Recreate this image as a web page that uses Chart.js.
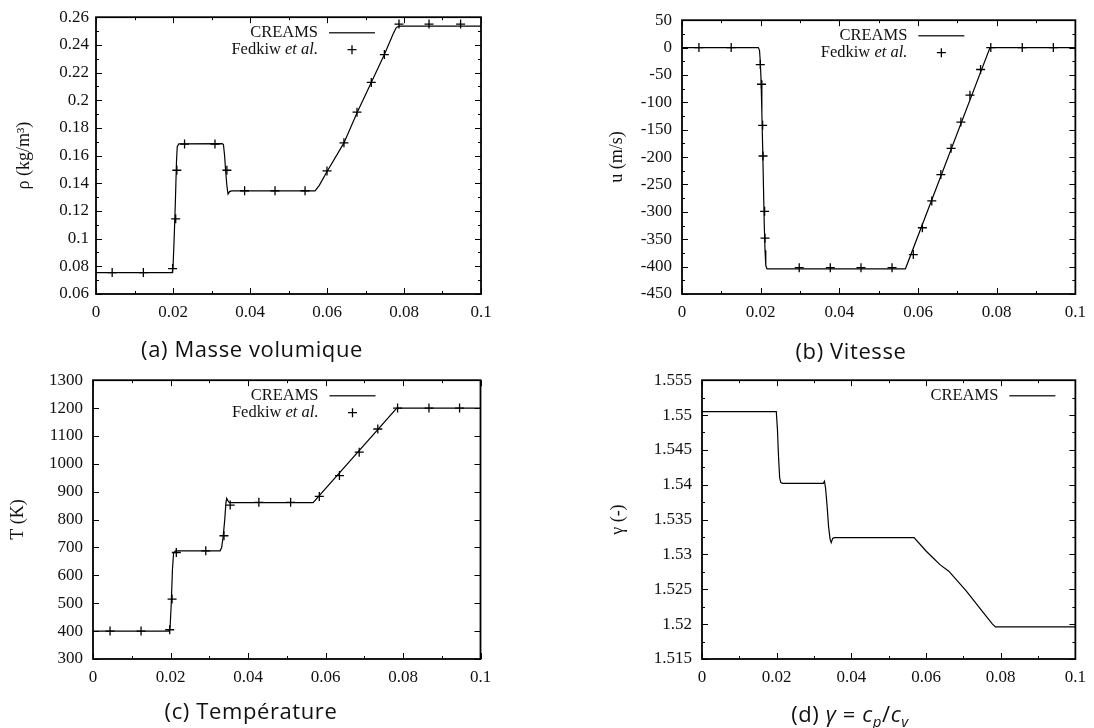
<!DOCTYPE html>
<html><head><meta charset="utf-8">
<script src="https://cdn.jsdelivr.net/npm/chart.js@4.4.1/dist/chart.umd.min.js"></script>
<style>
html,body{margin:0;padding:0;background:#fff;}
body{width:1094px;height:728px;position:relative;overflow:hidden;}
canvas{position:absolute;}
.cap{position:absolute;font-family:'Open Sans',sans-serif;font-size:22px;letter-spacing:0.6px;color:#111;text-align:center;width:400px;line-height:22px;white-space:nowrap;}
.cap i{font-style:italic;}
</style></head><body>
<canvas id="cA" width="547" height="330" style="left:0;top:0"></canvas>
<canvas id="cB" width="547" height="330" style="left:547px;top:0"></canvas>
<canvas id="cC" width="547" height="368" style="left:0;top:360px"></canvas>
<canvas id="cD" width="547" height="368" style="left:547px;top:360px"></canvas>
<div class="cap" style="left:52px;top:337px">(a) Masse volumique</div>
<div class="cap" style="left:651px;top:339px">(b) Vitesse</div>
<div class="cap" style="left:51px;top:699px">(c) Température</div>
<div class="cap" style="left:650px;top:702px">(d) <i>γ</i> = <i>c<sub style="font-size:15px">p</sub></i>/<i>c<sub style="font-size:15px">v</sub></i></div>
<script>
// ---------------- data ----------------
const xTickLabels = ['0','0.02','0.04','0.06','0.08','0.1'];
const seriesNames = ['CREAMS','Fedkiw et al.'];

// (a) density
const rhoTickLabels = ['0.06','0.08','0.1','0.12','0.14','0.16','0.18','0.2','0.22','0.24','0.26'];
const creamsRhoX = [0,0.0198,0.0200,0.0203,0.0206,0.0209,0.0211,0.0215,0.0328,0.0331,0.0334,0.0337,0.0340,0.0343,0.0347,0.0352,0.0569,0.0580,0.0599,0.0644,0.0678,0.0715,0.0749,0.0772,0.0780,0.0787,0.1];
const creamsRho  = [0.0755,0.0755,0.079,0.100,0.125,0.155,0.1665,0.1685,0.1687,0.1680,0.160,0.148,0.138,0.1322,0.1340,0.1345,0.1345,0.1385,0.1480,0.1692,0.1910,0.2129,0.2330,0.2480,0.2525,0.2535,0.2535];
const fedkiwRhoX = [0.0042,0.0123,0.0199,0.0207,0.0210,0.0230,0.0309,0.0340,0.0386,0.0465,0.0543,0.0600,0.0644,0.0678,0.0715,0.0749,0.0787,0.0865,0.0947];
const fedkiwRho  = [0.0755,0.0755,0.0784,0.1143,0.1494,0.1683,0.1683,0.1494,0.1346,0.1346,0.1346,0.1489,0.1692,0.1914,0.2129,0.2330,0.2550,0.2550,0.2550];

// (b) velocity
const uTickLabels = ['-450','-400','-350','-300','-250','-200','-150','-100','-50','0','50'];
const creamsUX = [0,0.0194,0.0197,0.0199,0.0201,0.0203,0.0205,0.0207,0.0209,0.0211,0.0213,0.0216,0.0568,0.0783,0.1];
const creamsU  = [0,0,-5,-25,-60,-120,-180,-250,-320,-370,-398,-404,-404,0,0];
const fedkiwUX = [0.0043,0.0125,0.0199,0.0202,0.0205,0.0206,0.0210,0.0211,0.0298,0.0377,0.0455,0.0534,0.0588,0.0611,0.0635,0.0658,0.0684,0.0709,0.0732,0.0759,0.0785,0.0865,0.0944];
const fedkiwU  = [0,0,-31,-67,-142,-198,-299,-348,-402,-402,-402,-402,-378,-329,-280,-232,-184,-136,-87,-40,0,0,0];

// (c) temperature
const TTickLabels = ['300','400','500','600','700','800','900','1000','1100','1200','1300'];
const creamsTX = [0,0.0196,0.0199,0.0202,0.0205,0.0208,0.0213,0.0328,0.0332,0.0336,0.0340,0.0343,0.0345,0.0348,0.0352,0.0568,0.0784,0.1];
const creamsT  = [400,400,415,500,620,680,688,688,700,740,800,860,876,868,861,861,1200,1200];
const fedkiwTX = [0.0044,0.0124,0.0198,0.0204,0.0215,0.0291,0.0338,0.0354,0.0428,0.0510,0.0584,0.0636,0.0687,0.0735,0.0786,0.0867,0.0946];
const fedkiwT  = [400,400,405,515,682,688,742,852,862,862,883,958,1042,1125,1200,1200,1200];

// (d) gamma
const gammaTickLabels = ['1.515','1.52','1.525','1.53','1.535','1.54','1.545','1.55','1.555'];
const creamsGX = [0,0.0199,0.0202,0.0205,0.0208,0.0211,0.0216,0.0325,0.0328,0.0331,0.0335,0.0339,0.0343,0.0346,0.0350,0.0354,0.0568,0.0600,0.0615,0.0638,0.0661,0.0707,0.0753,0.0778,0.0786,0.1];
const creamsG  = [1.5505,1.5505,1.548,1.544,1.541,1.5403,1.5402,1.5402,1.5405,1.5395,1.537,1.534,1.5322,1.5317,1.5323,1.5324,1.5324,1.5305,1.5297,1.5285,1.5276,1.5248,1.5217,1.5200,1.5196,1.5196];

// ---------------- plugins ----------------
const framePlugin = {
  id: 'frame',
  afterDatasetsDraw(chart, args, o) {
    const {ctx, chartArea: {left, top, right, bottom}, scales: {x, y}} = chart;
    ctx.save();
    ctx.strokeStyle = '#000';
    ctx.lineWidth = 1;
    const mk = (vals, withMinor) => {
      const out = [];
      vals.forEach((v, i) => {
        out.push([v, 6]);
        if (withMinor && i < vals.length - 1) out.push([(v + vals[i + 1]) / 2, 3]);
      });
      return out;
    };
    ctx.beginPath();
    mk(x.ticks.map(t => t.value), o.minorX).forEach(([v, l]) => {
      const p = Math.round(x.getPixelForValue(v)) + 0.5;
      ctx.moveTo(p, bottom); ctx.lineTo(p, bottom - l);
      ctx.moveTo(p, top); ctx.lineTo(p, top + l);
    });
    mk(y.ticks.map(t => t.value), o.minorY).forEach(([v, l]) => {
      const p = Math.round(y.getPixelForValue(v)) + 0.5;
      ctx.moveTo(left, p); ctx.lineTo(left + l, p);
      ctx.moveTo(right, p); ctx.lineTo(right - l, p);
    });
    ctx.stroke();
    ctx.lineWidth = 1.8;
    ctx.strokeRect(left, top, right - left, bottom - top);
    ctx.restore();
  }
};

const legendPlugin = {
  id: 'inlegend',
  afterDraw(chart, args, o) {
    const {ctx, chartArea: {right, top}} = chart;
    const sEnd = right - o.endOff, sStart = sEnd - 46;
    ctx.save();
    ctx.fillStyle = '#111';
    ctx.textBaseline = 'middle';
    ctx.textAlign = 'right';
    chart.data.datasets.forEach((ds, i) => {
      const yy = top + 15.5 + i * 17;
      const tx = sStart - 11;
      const normalFont = '16.5px "Liberation Serif", serif';
      const italicFont = 'italic 16.5px "Liberation Serif", serif';
      if (ds.label.endsWith(' et al.')) {
        ctx.font = italicFont;
        ctx.fillText('et al.', tx, yy);
        const w = ctx.measureText('et al.').width;
        ctx.font = normalFont;
        ctx.fillText(ds.label.slice(0, -6), tx - w, yy);
      } else {
        ctx.font = normalFont;
        ctx.fillText(ds.label, tx, yy);
      }
      ctx.strokeStyle = '#333';
      ctx.lineWidth = 1.4;
      ctx.beginPath();
      if (ds.showLine) {
        ctx.moveTo(sStart, yy); ctx.lineTo(sEnd, yy);
      } else {
        const cx = (sStart + sEnd) / 2, r = 4.5;
        ctx.strokeStyle = '#000';
        ctx.lineWidth = 1.3;
        ctx.moveTo(cx - r, yy); ctx.lineTo(cx + r, yy);
        ctx.moveTo(cx, yy - r); ctx.lineTo(cx, yy + r);
      }
      ctx.stroke();
    });
    ctx.restore();
  }
};

// ---------------- builder ----------------
const tickFont = {family: '"Liberation Serif", serif', size: 17};
const titleFont = {family: '"Liberation Serif", serif', size: 18};

function pts(xs, ys) { return xs.map((x, i) => ({x, y: ys[i]})); }

function buildChart(id, c) {
  const datasets = [{
    label: seriesNames[0], data: pts(c.lineX, c.lineY), showLine: true,
    borderColor: '#000', borderWidth: 1.2, pointRadius: 0, tension: 0
  }];
  if (c.markX) datasets.push({
    label: seriesNames[1], data: pts(c.markX, c.markY), showLine: false,
    pointStyle: 'cross', pointRadius: 4.5, borderColor: '#000', backgroundColor: '#000', borderWidth: 1.3
  });
  new Chart(document.getElementById(id), {
    type: 'scatter',
    data: {datasets},
    options: {
      responsive: false, animation: false, devicePixelRatio: 1,
      layout: {padding: {left: 0, top: c.padTop, right: c.padRight, bottom: 0}},
      plugins: {
        legend: {display: false}, tooltip: {enabled: false},
        frame: {minorX: true, minorY: c.minorY},
        inlegend: {endOff: c.legendEnd}
      },
      scales: {
        x: {
          type: 'linear', min: 0, max: 0.1,
          afterBuildTicks: s => { s.ticks = xTickLabels.map(l => ({value: parseFloat(l)})); },
          afterFit: s => { s.height = c.xAxisH; },
          ticks: {autoSkip: false, maxRotation: 0, padding: 8, color: '#111', font: tickFont,
                  callback: (v, i) => xTickLabels[i]},
          grid: {display: false, drawTicks: false}, border: {display: false}
        },
        y: {
          type: 'linear', min: parseFloat(c.yLabels[0]), max: parseFloat(c.yLabels[c.yLabels.length - 1]),
          afterBuildTicks: s => { s.ticks = c.yLabels.map(l => ({value: parseFloat(l)})); },
          afterFit: s => { s.width = c.yAxisW; },
          ticks: {autoSkip: false, padding: c.yPad, color: '#111', font: tickFont,
                  callback: (v, i) => c.yLabels[i]},
          title: {display: true, text: c.yTitle, color: '#111', font: titleFont,
                  padding: {top: c.titlePad, bottom: 0}},
          grid: {display: false, drawTicks: false}, border: {display: false}
        }
      }
    },
    plugins: [framePlugin, legendPlugin]
  });
}

buildChart('cA', {lineX: creamsRhoX, lineY: creamsRho, markX: fedkiwRhoX, markY: fedkiwRho,
  yLabels: rhoTickLabels, yTitle: 'ρ (kg/m³)', minorY: true,
  padTop: 15, padRight: 66, yAxisW: 96, xAxisH: 36, yPad: 7, titlePad: 13.4, legendEnd: 106});
buildChart('cB', {lineX: creamsUX, lineY: creamsU, markX: fedkiwUX, markY: fedkiwU,
  yLabels: uTickLabels, yTitle: 'u (m/s)', minorY: true,
  padTop: 15, padRight: 14, yAxisW: 135, xAxisH: 36, yPad: 10, titlePad: 59, legendEnd: 111});
buildChart('cC', {lineX: creamsTX, lineY: creamsT, markX: fedkiwTX, markY: fedkiwT,
  yLabels: TTickLabels, yTitle: 'T (K)', minorY: false,
  padTop: 16, padRight: 66.5, yAxisW: 93, xAxisH: 69, yPad: 10, titlePad: 7.7, legendEnd: 105});
buildChart('cD', {lineX: creamsGX, lineY: creamsG,
  yLabels: gammaTickLabels, yTitle: 'γ (-)', minorY: true,
  padTop: 16, padRight: 14, yAxisW: 155, xAxisH: 69, yPad: 10, titlePad: 60.7, legendEnd: 20});
</script>
</body></html>
